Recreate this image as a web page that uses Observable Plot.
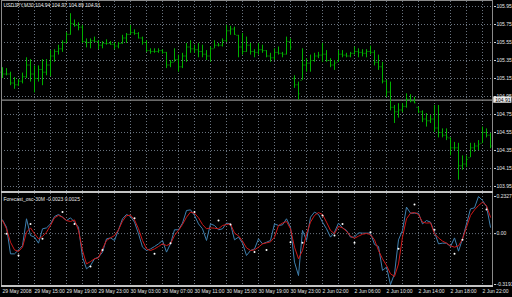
<!DOCTYPE html>
<html><head><meta charset="utf-8">
<script src="https://cdn.jsdelivr.net/npm/d3@7"></script>
<script src="https://cdn.jsdelivr.net/npm/@observablehq/plot@0.6"></script>
<style>
html,body{margin:0;padding:0;background:#000;}
#chart{position:relative;width:512px;height:297px;background:#000;overflow:hidden;font-family:"Liberation Sans",Arial,sans-serif;}
#chart svg{position:absolute;left:0;display:block;overflow:visible;}
.ln{position:absolute;}
</style></head><body><div id="chart"></div>
<script>
// ---- data ----
const symbolTitle = "USDJPY,M30";
const lastBar = [104.94, 104.97, 104.89, 104.91]; // O H L C shown in the title
const high = [105.27,105.26,105.22,105.16,105.14,105.21,105.38,105.36,105.29,105.29,
105.36,105.36,105.46,105.47,105.52,105.57,105.66,105.87,105.80,105.77,
105.74,105.59,105.59,105.61,105.57,105.56,105.58,105.56,105.55,105.55,
105.63,105.65,105.74,105.69,105.66,105.61,105.57,105.48,105.48,105.48,
105.47,105.44,105.35,105.48,105.41,105.43,105.54,105.57,105.52,105.54,
105.52,105.46,105.50,105.57,105.54,105.59,105.74,105.73,105.72,105.63,
105.65,105.61,105.54,105.47,105.54,105.52,105.46,105.43,105.48,105.50,
105.44,105.61,105.59,105.18,105.11,105.48,105.37,105.41,105.43,105.44,
105.54,105.46,105.37,105.35,105.46,105.46,105.43,105.44,105.50,105.48,
105.47,105.47,105.51,105.46,105.41,105.33,105.13,105.11,104.85,104.87,
104.87,104.98,104.97,104.94,104.83,104.79,104.76,104.74,104.85,104.85,
104.59,104.59,104.49,104.44,104.43,104.29,104.29,104.43,104.43,104.46,
104.61,104.59,104.54];
const low = [105.15,105.18,105.07,105.03,105.06,105.09,105.15,105.11,104.99,105.11,
105.07,105.18,105.17,105.33,105.41,105.44,105.54,105.63,105.72,105.68,
105.54,105.49,105.48,105.55,105.47,105.48,105.52,105.52,105.47,105.48,
105.53,105.54,105.63,105.63,105.59,105.52,105.44,105.42,105.43,105.43,
105.42,105.26,105.27,105.33,105.22,105.26,105.33,105.43,105.43,105.38,
105.38,105.35,105.33,105.48,105.50,105.50,105.55,105.63,105.63,105.38,
105.41,105.44,105.41,105.38,105.41,105.43,105.38,105.33,105.35,105.41,
105.38,105.41,105.46,105.04,104.91,105.13,105.22,105.22,105.33,105.37,
105.33,105.33,105.27,105.24,105.33,105.38,105.38,105.38,105.41,105.38,
105.39,105.38,105.41,105.29,105.24,105.09,104.94,104.79,104.65,104.71,
104.77,104.82,104.88,104.87,104.76,104.66,104.61,104.65,104.55,104.49,
104.49,104.46,104.29,104.35,104.02,104.13,104.16,104.27,104.33,104.35,
104.43,104.49,104.37];
const open = [105.22,105.20,105.20,105.10,105.08,105.12,105.17,105.30,105.20,105.15,
105.25,105.22,105.30,105.40,105.45,105.48,105.55,105.64,105.76,105.74,
105.72,105.56,105.55,105.57,105.56,105.52,105.54,105.54,105.53,105.51,
105.54,105.60,105.64,105.66,105.65,105.60,105.55,105.46,105.45,105.45,
105.46,105.44,105.30,105.33,105.36,105.28,105.40,105.50,105.48,105.47,
105.45,105.42,105.40,105.48,105.52,105.52,105.57,105.68,105.70,105.63,
105.50,105.45,105.52,105.45,105.44,105.47,105.46,105.40,105.38,105.44,
105.43,105.42,105.56,105.15,105.08,105.13,105.30,105.32,105.35,105.40,
105.41,105.42,105.35,105.30,105.33,105.42,105.41,105.40,105.43,105.45,
105.44,105.43,105.45,105.44,105.33,105.28,105.12,105.00,104.83,104.78,
104.80,104.84,104.92,104.90,104.83,104.78,104.70,104.68,104.70,104.60,
104.55,104.52,104.49,104.38,104.38,104.18,104.20,104.27,104.38,104.40,
104.43,104.55,104.52];
const close = [105.20,105.20,105.10,105.08,105.12,105.17,105.30,105.20,105.15,105.25,
105.22,105.30,105.40,105.45,105.48,105.55,105.64,105.76,105.74,105.72,
105.56,105.55,105.57,105.56,105.52,105.54,105.54,105.53,105.51,105.54,
105.60,105.64,105.66,105.65,105.60,105.55,105.46,105.45,105.45,105.46,
105.44,105.30,105.33,105.36,105.28,105.40,105.50,105.48,105.47,105.45,
105.42,105.40,105.48,105.52,105.52,105.57,105.68,105.70,105.64,105.50,
105.45,105.52,105.45,105.44,105.47,105.46,105.40,105.38,105.44,105.43,
105.42,105.56,105.50,105.08,104.98,105.30,105.32,105.35,105.40,105.41,
105.42,105.35,105.30,105.32,105.42,105.41,105.40,105.43,105.45,105.44,
105.43,105.45,105.44,105.33,105.28,105.12,105.00,104.83,104.78,104.80,
104.84,104.92,104.90,104.88,104.78,104.70,104.68,104.70,104.60,104.55,
104.52,104.50,104.38,104.38,104.18,104.20,104.25,104.38,104.40,104.42,
104.55,104.52,104.40];
const priceTicks = [105.95,105.75,105.55,105.35,105.15,104.95,104.75,104.55,104.35,104.15,103.95];

const oscTitle = "Forecast_osc-30M -0.0023 0.0025";
const oscMax = 0.2327, oscMin = -0.3191;
const oscBlue = [0.086,0.040,-0.127,-0.127,-0.102,-0.075,0.093,-0.012,-0.022,-0.060,
0.030,0.036,0.061,0.107,0.120,0.103,0.082,0.099,0.072,0.040,
-0.148,-0.221,-0.200,-0.158,-0.148,-0.116,-0.033,-0.027,-0.043,0.024,
0.093,0.120,0.107,0.072,-0.001,-0.085,-0.106,-0.096,-0.081,-0.064,
-0.043,-0.116,-0.064,0.024,0.024,0.066,0.145,0.149,0.114,0.061,
0.030,-0.043,0.061,0.051,0.024,0.030,0.066,0.061,-0.039,-0.022,
-0.060,-0.137,-0.106,-0.096,-0.033,-0.064,-0.054,-0.043,0.061,0.051,
0.055,0.093,0.040,-0.179,-0.263,0.020,-0.043,0.103,0.135,0.120,
0.072,0.030,-0.022,0.009,0.066,0.036,0.020,-0.022,-0.022,0.005,
0.003,0.003,0.003,-0.068,-0.081,-0.231,-0.210,-0.3191,-0.252,-0.039,
0.020,0.166,0.128,0.128,0.128,0.061,0.082,0.072,0.009,-0.064,
-0.060,-0.060,-0.081,-0.027,-0.110,-0.033,0.061,0.155,0.162,0.2327,
0.208,0.170,0.040];
const oscRed = [0.082,0.030,-0.054,-0.102,-0.112,-0.085,0.009,0.036,-0.001,-0.033,
-0.018,0.009,0.051,0.099,0.114,0.103,0.082,0.076,0.086,0.020,
-0.106,-0.190,-0.175,-0.158,-0.152,-0.096,-0.043,-0.027,-0.012,0.024,
0.078,0.112,0.116,0.086,0.030,-0.043,-0.096,-0.106,-0.096,-0.081,
-0.064,-0.075,-0.064,-0.012,0.020,0.057,0.103,0.135,0.128,0.099,
0.057,0.030,0.036,0.034,0.030,0.051,0.057,0.061,0.003,-0.014,
-0.047,-0.089,-0.106,-0.102,-0.085,-0.064,-0.058,-0.052,-0.022,0.051,
0.066,0.076,0.030,-0.085,-0.158,-0.106,-0.001,0.072,0.114,0.132,
0.120,0.072,0.020,-0.001,0.045,0.036,0.015,-0.016,-0.029,-0.016,
-0.004,0.001,-0.006,-0.039,-0.106,-0.158,-0.200,-0.252,-0.269,-0.190,
-0.022,0.093,0.128,0.132,0.120,0.072,0.066,0.068,-0.001,-0.027,
-0.047,-0.060,-0.077,-0.085,-0.077,-0.033,0.040,0.114,0.149,0.176,
0.197,0.176,0.103];
const dotBar = [1,4,7,10,15,18,22,25,33,38,42,48,54,57,63,66,72,75,80,83,85,88,92,99,103,108,113,115,121];
const dotVal = [-0.001,-0.137,0.061,-0.033,0.135,0.061,-0.206,-0.102,0.097,-0.127,
-0.060,0.135,0.082,0.057,-0.116,-0.102,-0.054,-0.058,0.114,-0.012,
0.061,-0.058,0.009,-0.095,0.183,0.024,-0.127,-0.039,0.151];

const timeBar = [0,8,16,24,32,40,48,56,64,72,80,88,96,104,112,120];
const timeLabels = ["29 May 2008","29 May 15:00","29 May 19:00","29 May 23:00","30 May 03:00",
"30 May 07:00","30 May 11:00","30 May 15:00","30 May 19:00","30 May 23:00",
"2 Jun 02:00","2 Jun 06:00","2 Jun 10:00","2 Jun 14:00","2 Jun 18:00","2 Jun 22:00"];
const gridBar = [4,8,12,16,20,24,28,32,36,40,44,48,52,56,60,64,68,72,76,80,84,88,92,96,100,104,108,112,116,120];

// ---- build ----
const bars = high.map((h, i) => ({i, high: h, low: low[i], open: open[i], close: close[i]}));
const osc = oscBlue.map((b, i) => ({i, blue: b, red: oscRed[i]}));
const dots = dotBar.map((b, k) => ({i: b, v: dotVal[k]}));
const bid = lastBar[3];
const title = symbolTitle + " " + lastBar.map(v => v.toFixed(2)).join(" ");

const xDomain = [-0.25, 122.75];
const FONT = "Liberation Sans, Arial, sans-serif";
const GREEN = "#00b000";
const GRID = "#6a7480";
const TXT = "#e6e6e6";
const DASH = "1,2";

const mainPlot = Plot.plot({
  width: 512, height: 192,
  marginLeft: 1, marginRight: 19, marginTop: 1, marginBottom: 1,
  x: {domain: xDomain, axis: null},
  y: {domain: [103.89444, 106.00556], axis: null},
  style: {background: "transparent", fontFamily: FONT, fontSize: "5px", color: TXT},
  marks: [
    Plot.ruleX(gridBar, {stroke: GRID, strokeDasharray: DASH}),
    Plot.ruleY(priceTicks, {stroke: GRID, strokeDasharray: DASH}),
    Plot.ruleY([bid], {stroke: "#8c8c8c", strokeWidth: 1.2}),
    Plot.ruleX(bars, {x: "i", y1: "low", y2: "high", stroke: GREEN}),
    Plot.ruleY(bars, {y: "open", x1: d => d.i - 0.375, x2: d => d.i - 0.125, stroke: GREEN}),
    Plot.ruleY(bars, {y: "close", x1: d => d.i + 0.125, x2: d => d.i + 0.375, stroke: GREEN}),
    Plot.axisY(priceTicks, {anchor: "right", tickSize: 2, tickPadding: 1, fontSize: 5,
      tickFormat: d => d.toFixed(2), fill: TXT, stroke: "#cfcfcf"}),
    Plot.rect([bid], {x1: () => xDomain[1] + 0.05, x2: () => xDomain[1] + 4.6,
      y1: d => d - 0.035, y2: d => d + 0.035, fill: "#e8e8e8"}),
    Plot.text([bid], {x: () => xDomain[1] + 2.35, y: d => d, text: d => d.toFixed(2),
      fill: "#000", fontSize: 5, textAnchor: "middle"}),
    Plot.text([title], {frameAnchor: "top-left", dx: 2, dy: 4, lineAnchor: "middle",
      fill: TXT, fontSize: 5})
  ]
});

const oscPlot = Plot.plot({
  width: 512, height: 105,
  marginLeft: 1, marginRight: 19, marginTop: 4, marginBottom: 13,
  x: {domain: xDomain, axis: null},
  y: {domain: [oscMin, oscMax], axis: null},
  style: {background: "transparent", fontFamily: FONT, fontSize: "5px", color: TXT},
  marks: [
    Plot.ruleX(gridBar, {stroke: GRID, strokeDasharray: DASH, insetTop: -3, insetBottom: -1}),
    Plot.ruleY([0], {stroke: GRID, strokeDasharray: DASH}),
    Plot.line(osc, {x: "i", y: "blue", stroke: "#3f80b0", strokeWidth: 1}),
    Plot.line(osc, {x: "i", y: "red", stroke: "#d01818", strokeWidth: 1}),
    Plot.dot(dots, {x: "i", y: "v", r: 1, fill: "#ffffff", stroke: "none"}),
    Plot.axisY([oscMax, 0, oscMin], {anchor: "right", tickSize: 2, tickPadding: 1, fontSize: 5,
      tickFormat: d => d === 0 ? "0.00" : d.toFixed(4), fill: TXT, stroke: "#cfcfcf"}),
    Plot.text([oscTitle], {frameAnchor: "top-left", dx: 2, dy: 3, lineAnchor: "middle",
      fill: TXT, fontSize: 5}),
    Plot.text(timeBar, {x: d => d, text: (d, j) => timeLabels[j], frameAnchor: "bottom",
      dy: 7, lineAnchor: "middle", textAnchor: "start", fill: TXT, fontSize: 5})
  ]
});

const chart = document.getElementById("chart");
mainPlot.style.top = "0px";
oscPlot.style.top = "192px";
chart.appendChild(mainPlot);
chart.appendChild(oscPlot);

function line(l, t, w, h, c) {
  const d = document.createElement("div");
  d.className = "ln";
  d.style.cssText = `left:${l}px;top:${t}px;width:${w}px;height:${h}px;background:${c};`;
  chart.appendChild(d);
}
line(1, 0, 492, 1, "#8a8a8a");
line(1, 0, 1, 287, "#8a8a8a");
line(492, 0, 1, 287, "#8a8a8a");
line(1, 191, 492, 2, "#c4c4c4");
line(1, 285, 492, 2, "#c4c4c4");
</script></body></html>
